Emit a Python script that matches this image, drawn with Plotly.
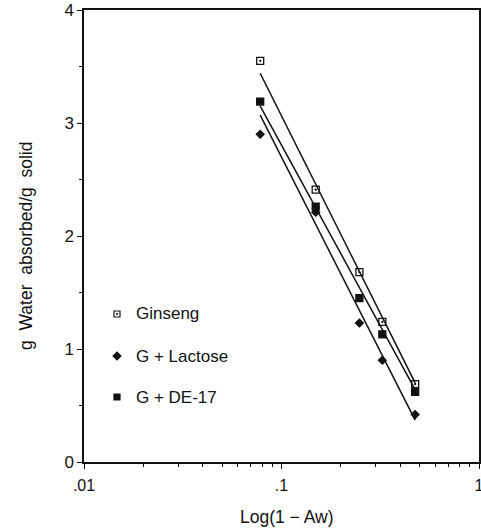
import plotly.graph_objects as go

# ---- data ----
x_vals = [0.078, 0.149, 0.248, 0.324, 0.475]          # 1 - Aw
ginseng = [3.55, 2.41, 1.68, 1.24, 0.69]
lactose = [2.90, 2.21, 1.23, 0.90, 0.42]
de17 = [3.19, 2.26, 1.45, 1.13, 0.62]

fit_x = [0.078, 0.475]
ginseng_fit = [3.44, 0.70]
de17_fit = [3.15, 0.64]
lactose_fit = [3.07, 0.37]

series_names = ["Ginseng", "G + Lactose", "G + DE-17"]
x_tick_vals = [0.01, 0.1, 1]
x_tick_text = [".01", ".1", "1"]
y_tick_vals = [0, 1, 2, 3, 4]

FONT = "Liberation Sans, Arial, sans-serif"
INK = "#111111"

W, H = 481, 529
L, R, T, B = 84, 2, 10, 67
PW, PH = W - L - R, H - T - B


def px_to_paper(px, py):
    return (px - L) / PW, (H - B - py) / PH


fig = go.Figure()

# regression lines
for fy in (ginseng_fit, de17_fit, lactose_fit):
    fig.add_trace(go.Scatter(x=fit_x, y=fy, mode="lines",
                             line=dict(color=INK, width=1.5),
                             showlegend=False, hoverinfo="skip"))

sym = {"Ginseng": "square-open-dot", "G + Lactose": "diamond", "G + DE-17": "square"}
size = {"Ginseng": 7, "G + Lactose": 6, "G + DE-17": 7}
for name, ys in zip(series_names, (ginseng, lactose, de17)):
    fig.add_trace(go.Scatter(x=x_vals, y=ys, mode="markers", name=name,
                             marker=dict(symbol=sym[name], size=size[name], color=INK,
                                         line=dict(color=INK, width=1.3)),
                             showlegend=False))

# manual legend on a pixel-coordinate overlay axis
leg_x = 117
leg_y = [314, 356, 397]
for name, yy in zip(series_names, leg_y):
    fig.add_trace(go.Scatter(x=[leg_x], y=[yy], mode="markers", xaxis="x2", yaxis="y2",
                             marker=dict(symbol=sym[name], size=6, color=INK,
                                         line=dict(color=INK, width=1.2)),
                             showlegend=False, hoverinfo="skip"))
    ax, ay = px_to_paper(leg_x + 17, yy)
    fig.add_annotation(x=ax, y=ay, xref="paper", yref="paper", text=name,
                       showarrow=False, xanchor="left", yanchor="middle",
                       font=dict(family=FONT, size=17, color=INK))

# axis titles
tx, ty = px_to_paper(287, 517)
fig.add_annotation(x=tx, y=ty, xref="paper", yref="paper", text="Log(1 − Aw)",
                   showarrow=False, xanchor="center", yanchor="middle",
                   font=dict(family=FONT, size=17.5, color=INK))
tx, ty = px_to_paper(26, 246)
fig.add_annotation(x=tx, y=ty, xref="paper", yref="paper", text="g  Water  absorbed/g  solid",
                   showarrow=False, textangle=-90, xanchor="center", yanchor="middle",
                   font=dict(family=FONT, size=17.5, color=INK))

minor_x = [m * 10 ** e for e in (-2, -1) for m in range(2, 10)]

fig.update_layout(
    width=W, height=H,
    margin=dict(l=L, r=R, t=T, b=B, autoexpand=False),
    paper_bgcolor="white", plot_bgcolor="white",
    font=dict(family=FONT, size=16, color=INK),
    xaxis=dict(type="log", range=[-2, 0], tickvals=x_tick_vals, ticktext=x_tick_text,
               ticks="outside", ticklen=5, tickwidth=1.3, tickcolor=INK,
               showline=True, linecolor=INK, linewidth=1.5, mirror=True,
               showgrid=False, zeroline=False, ticklabeloverflow="allow",
               ticklabelstandoff=3,
               tickfont=dict(family=FONT, size=16, color=INK),
               minor=dict(tickvals=minor_x, ticks="outside", ticklen=3,
                          tickcolor=INK, tickwidth=1.2, showgrid=False)),
    yaxis=dict(range=[0, 4], tickvals=y_tick_vals,
               ticks="outside", ticklen=5, tickwidth=1.3, tickcolor=INK,
               showline=True, linecolor=INK, linewidth=1.5, mirror=True,
               showgrid=False, zeroline=False,
               tickfont=dict(family=FONT, size=17, color=INK),
               minor=dict(dtick=0.5, ticks="outside", ticklen=3,
                          tickcolor=INK, tickwidth=1.2, showgrid=False)),
    xaxis2=dict(overlaying="x", range=[L, W - R], visible=False, fixedrange=True),
    yaxis2=dict(overlaying="y", range=[H - B, T], visible=False, fixedrange=True),
    showlegend=False,
)

fig.write_html("out.html", config={"displayModeBar": False},
               post_script="document.body.style.margin='0';document.body.style.overflow='hidden';")
